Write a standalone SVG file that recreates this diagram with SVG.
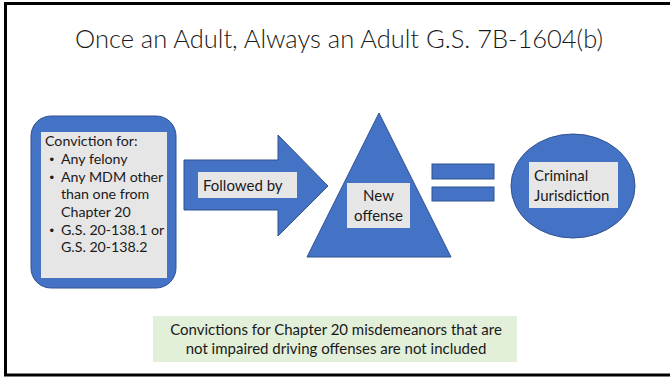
<svg xmlns="http://www.w3.org/2000/svg" width="670" height="378" viewBox="0 0 670 378">
  <style>
    .shape { fill: #4472C4; stroke: #2F528F; stroke-width: 1; }
    .label-bg { fill: #E7E6E6; }
    .txt { font-family: Lato, "Open Sans", "Liberation Sans", sans-serif; font-size: 15px; fill: #1a1a1a; }
    .list { font-size: 14.2px; }
    .bullet { font-family: "Liberation Sans", Arial, sans-serif; font-size: 13px; fill: #1a1a1a; }
    .title { font-family: Lato, "Open Sans", "Liberation Sans", sans-serif; font-weight: 300; font-size: 26px; fill: #1a1a1a; }
  </style>

  <!-- slide background and frame -->
  <rect x="0" y="0" width="670" height="378" fill="#ffffff"/>
  <rect x="5.5" y="3.5" width="700" height="371.5" fill="none" stroke="#000000" stroke-width="3"/>

  <text class="title" x="339" y="48" text-anchor="middle" textLength="528" lengthAdjust="spacingAndGlyphs">Once an Adult, Always an Adult G.S. 7B-1604(b)</text>

  <!-- prior conviction -->
  <g id="prior-conviction">
    <rect class="shape" x="31" y="116" width="145" height="172" rx="20" ry="20"/>
    <rect class="label-bg" x="41" y="132" width="126" height="146"/>
    <text class="txt list" x="45" y="146">Conviction for:</text>
    <text class="bullet" x="49.5" y="163.5">•</text>
    <text class="txt list" x="61" y="164">Any felony</text>
    <text class="bullet" x="49.5" y="181.5">•</text>
    <text class="txt list" x="61" y="182">Any MDM other</text>
    <text class="txt list" x="61" y="199">than one from</text>
    <text class="txt list" x="61" y="217">Chapter 20</text>
    <text class="bullet" x="49.5" y="234.5">•</text>
    <text class="txt list" x="61" y="235">G.S. 20-138.1 or</text>
    <text class="txt list" x="61" y="252">G.S. 20-138.2</text>
  </g>

  <!-- connectors: block arrow and equals sign -->
  <g id="connectors">
    <g id="followed-by">
      <polygon class="shape" points="184,160 278,160 278,135 328,186 278,236 278,210 184,210"/>
      <rect class="label-bg" x="198" y="172" width="99" height="26"/>
      <text class="txt" x="203" y="191">Followed by</text>
    </g>
    <g id="equals">
      <rect class="shape" x="432" y="164" width="62" height="15"/>
      <rect class="shape" x="432" y="187" width="62" height="14"/>
    </g>
  </g>

  <!-- new offense -->
  <g id="new-offense">
    <polygon class="shape" points="379,113 451,257 307,257"/>
    <rect class="label-bg" x="347" y="183" width="63" height="45"/>
    <text class="txt" x="378.5" y="201" text-anchor="middle">New</text>
    <text class="txt" x="378.5" y="221" text-anchor="middle">offense</text>
  </g>

  <!-- result -->
  <g id="criminal-jurisdiction">
    <ellipse class="shape" cx="573" cy="186" rx="62" ry="52"/>
    <rect class="label-bg" x="529" y="162" width="89" height="46"/>
    <text class="txt" x="534" y="181">Criminal</text>
    <text class="txt" x="534" y="201">Jurisdiction</text>
  </g>

  <!-- note -->
  <g id="note">
    <rect x="153" y="316" width="364" height="46" fill="#E2EFD9"/>
    <text class="txt" x="336" y="335" text-anchor="middle">Convictions for Chapter 20 misdemeanors that are</text>
    <text class="txt" x="336" y="354" text-anchor="middle">not impaired driving offenses are not included</text>
  </g>
</svg>
